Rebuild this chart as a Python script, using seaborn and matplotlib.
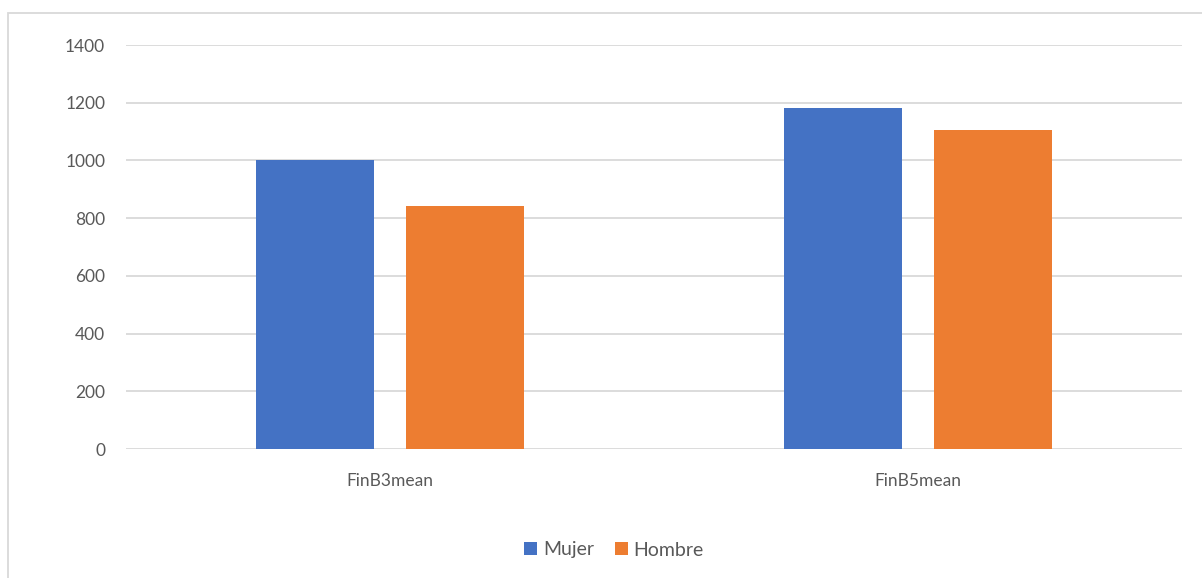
import matplotlib
matplotlib.use("Agg")
import matplotlib.pyplot as plt
from matplotlib.patches import Rectangle
import seaborn as sns
import pandas as pd

categories = ["FinB3mean", "FinB5mean"]
series_names = ["Mujer", "Hombre"]
mujer = [1001, 1181]
hombre = [843, 1105]
y_ticks = [0, 200, 400, 600, 800, 1000, 1200, 1400]

df = pd.DataFrame({
    "cat": categories * 2,
    "serie": [series_names[0]] * 2 + [series_names[1]] * 2,
    "valor": mujer + hombre,
})

sns.set_style("white")
plt.rcParams["font.family"] = ["Lato", "DejaVu Sans"]

W, H = 1202, 578
fig = plt.figure(figsize=(W / 100, H / 100), dpi=100)
ax = fig.add_axes([126 / W, 1 - 449 / H, (1182 - 126) / W, (449 - 45) / H])

palette = {"Mujer": "#4472C4", "Hombre": "#ED7D31"}
sns.barplot(data=df, x="cat", y="valor", hue="serie", order=categories,
            hue_order=series_names, palette=palette, width=0.568, gap=0.213,
            saturation=1, ax=ax, legend=True, edgecolor="none", linewidth=0,
            zorder=3)

ax.set_ylim(0, 1400)
ax.set_xlim(-0.5, 1.5)
ax.set_yticks(y_ticks)
ax.yaxis.grid(True, color="#D9D9D9", linewidth=1.3, zorder=0)
ax.set_axisbelow(True)
for s in ax.spines.values():
    s.set_visible(False)
ax.set_xlabel("")
ax.set_ylabel("")
ax.tick_params(axis="both", length=0, labelsize=12.5, colors="#595959")
ax.tick_params(axis="y", pad=15)
ax.tick_params(axis="x", pad=17)

leg = ax.legend(loc="center", bbox_to_anchor=(614 / W, 1 - 550 / H),
                bbox_transform=fig.transFigure, ncol=2, frameon=False,
                fontsize=14, handlelength=0.67, handleheight=0.67,
                handletextpad=0.31, columnspacing=1.05)
for t in leg.get_texts():
    t.set_color("#595959")

# chart frame
fig.patches.append(Rectangle((8 / W, -0.05), (W + 20) / W, 1 - 13 / H + 0.05,
                             transform=fig.transFigure, fill=False,
                             edgecolor="#D9D9D9", linewidth=1.3))

fig.savefig("out.png", dpi=100)
